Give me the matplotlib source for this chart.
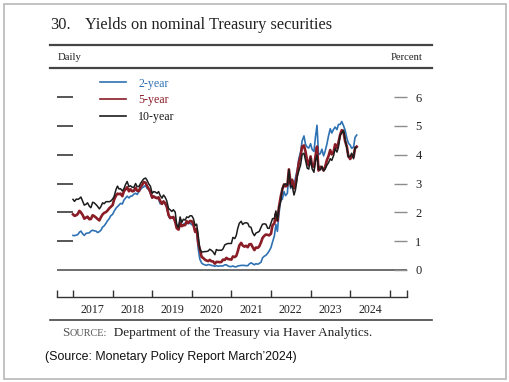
import matplotlib
matplotlib.use("Agg")
import matplotlib.pyplot as plt
from matplotlib.lines import Line2D
from matplotlib.patches import Rectangle
import numpy as np
import pandas as pd

# ---------------- data (semi-monthly readings, percent) ----------------
start_date = "2017-01-01"
series_names = ["2-year", "5-year", "10-year"]

yield_2y = [
    1.20, 1.19, 1.21, 1.23, 1.31, 1.35, 1.25, 1.20, 1.27, 1.28, 1.29, 1.35, 1.38, 1.36, 1.35, 1.30, 1.33, 1.38, 1.49, 1.53, 1.62, 1.71, 1.78, 1.88,
    1.93, 2.04, 2.14, 2.20, 2.25, 2.31, 2.29, 2.42, 2.50, 2.56, 2.50, 2.56, 2.57, 2.63, 2.66, 2.62, 2.72, 2.79, 2.86, 2.88, 2.94, 2.83, 2.80, 2.65,
    2.50, 2.56, 2.50, 2.52, 2.46, 2.30, 2.32, 2.38, 2.27, 2.18, 1.87, 1.78, 1.83, 1.84, 1.72, 1.55, 1.50, 1.70, 1.53, 1.59, 1.62, 1.62, 1.61, 1.63,
    1.57, 1.56, 1.33, 1.42, 0.72, 0.38, 0.24, 0.20, 0.18, 0.16, 0.19, 0.18, 0.16, 0.15, 0.13, 0.15, 0.13, 0.14, 0.14, 0.14, 0.18, 0.18, 0.14, 0.12,
    0.12, 0.14, 0.11, 0.11, 0.14, 0.15, 0.16, 0.16, 0.16, 0.15, 0.15, 0.21, 0.25, 0.22, 0.18, 0.22, 0.20, 0.23, 0.27, 0.42, 0.48, 0.51, 0.58, 0.66,
    0.78, 0.97, 1.18, 1.58, 1.34, 1.94, 2.44, 2.45, 2.72, 2.58, 2.66, 3.43, 2.83, 3.13, 2.90, 3.20, 3.50, 3.87, 4.10, 4.48, 4.65, 4.36, 4.26, 4.23,
    4.38, 4.18, 4.11, 4.62, 5.02, 4.00, 4.04, 4.19, 3.96, 4.12, 4.38, 4.65, 4.90, 4.75, 4.88, 4.96, 4.87, 5.05, 5.05, 5.15, 5.00, 4.85, 4.58, 4.40,
    4.33, 4.22, 4.27, 4.60, 4.68,
]

yield_5y = [
    1.93, 1.88, 1.90, 1.95, 2.05, 2.00, 1.90, 1.78, 1.82, 1.85, 1.76, 1.77, 1.90, 1.87, 1.82, 1.77, 1.72, 1.83, 1.93, 1.98, 2.01, 2.06, 2.14, 2.19,
    2.25, 2.44, 2.58, 2.65, 2.63, 2.65, 2.56, 2.73, 2.80, 2.87, 2.73, 2.80, 2.73, 2.74, 2.85, 2.75, 2.74, 2.88, 2.95, 3.05, 3.03, 2.91, 2.81, 2.71,
    2.51, 2.55, 2.51, 2.49, 2.52, 2.40, 2.29, 2.38, 2.32, 2.20, 1.91, 1.81, 1.82, 1.84, 1.67, 1.45, 1.40, 1.63, 1.52, 1.55, 1.56, 1.69, 1.63, 1.70,
    1.69, 1.59, 1.32, 1.42, 0.91, 0.73, 0.45, 0.42, 0.36, 0.33, 0.31, 0.35, 0.30, 0.30, 0.22, 0.28, 0.28, 0.27, 0.28, 0.36, 0.35, 0.42, 0.38, 0.37,
    0.36, 0.47, 0.45, 0.49, 0.65, 0.85, 0.94, 0.85, 0.81, 0.84, 0.79, 0.89, 0.90, 0.80, 0.69, 0.78, 0.77, 0.82, 0.96, 1.11, 1.19, 1.23, 1.22, 1.20,
    1.26, 1.55, 1.62, 1.95, 1.71, 2.18, 2.55, 2.79, 2.97, 2.90, 2.93, 3.49, 2.99, 3.13, 2.83, 2.95, 3.38, 3.73, 3.96, 4.28, 4.32, 4.11, 3.77, 3.63,
    3.94, 3.61, 3.57, 3.95, 4.28, 3.45, 3.58, 3.55, 3.45, 3.58, 3.82, 3.95, 4.16, 4.01, 4.10, 4.36, 4.23, 4.43, 4.70, 4.85, 4.77, 4.47, 4.28, 3.95,
    3.85, 3.95, 3.93, 4.23, 4.28,
]

yield_10y = [
    2.45, 2.38, 2.46, 2.45, 2.48, 2.53, 2.38, 2.25, 2.28, 2.33, 2.21, 2.16, 2.35, 2.33, 2.27, 2.21, 2.12, 2.20, 2.33, 2.30, 2.37, 2.37, 2.37, 2.39,
    2.46, 2.55, 2.79, 2.91, 2.81, 2.82, 2.74, 2.82, 2.97, 3.07, 2.89, 2.92, 2.87, 2.86, 3.00, 2.89, 2.90, 3.00, 3.09, 3.16, 3.19, 3.11, 2.98, 2.91,
    2.66, 2.72, 2.70, 2.66, 2.72, 2.59, 2.49, 2.60, 2.52, 2.40, 2.13, 2.09, 2.03, 2.09, 2.01, 1.58, 1.47, 1.84, 1.65, 1.76, 1.73, 1.84, 1.82, 1.88,
    1.88, 1.79, 1.54, 1.59, 1.17, 0.73, 0.62, 0.63, 0.64, 0.64, 0.66, 0.72, 0.68, 0.63, 0.53, 0.71, 0.68, 0.69, 0.68, 0.73, 0.87, 0.90, 0.92, 0.92,
    0.92, 1.13, 1.09, 1.20, 1.45, 1.62, 1.69, 1.58, 1.63, 1.64, 1.62, 1.50, 1.48, 1.30, 1.19, 1.28, 1.31, 1.34, 1.48, 1.59, 1.60, 1.59, 1.45, 1.44,
    1.63, 1.78, 1.79, 2.05, 1.72, 2.16, 2.39, 2.83, 2.96, 2.99, 2.94, 3.48, 2.88, 2.92, 2.60, 2.79, 3.26, 3.45, 3.65, 4.01, 4.05, 3.80, 3.53, 3.50,
    3.88, 3.51, 3.39, 3.79, 3.98, 3.50, 3.47, 3.60, 3.44, 3.50, 3.64, 3.72, 3.86, 3.80, 3.97, 4.21, 4.09, 4.27, 4.69, 4.75, 4.85, 4.54, 4.23, 3.92,
    3.95, 4.05, 3.86, 4.26, 4.25,
]

year_labels = ["2017", "2018", "2019", "2020", "2021", "2022", "2023", "2024"]
yticks = [0, 1, 2, 3, 4, 5, 6]

# ---------------- helpers ----------------
dates = pd.date_range(start_date, periods=len(yield_2y), freq="SMS")
days_in_year = np.where(dates.is_leap_year, 366.0, 365.0)
xdec = dates.year + (dates.dayofyear - 1) / days_in_year

W, H = 509, 382
fig = plt.figure(figsize=(W / 100, H / 100), dpi=100)
fig.patch.set_facecolor("white")

def fx(px):
    return px / W

def fy(py):
    return 1 - py / H

SERIF = "Liberation Serif"
C_BLUE = "#2f72b4"
C_RED = "#8a1c26"
C_BLACK = "#1c1c1c"
C_TXT = "#222222"

# outer border
fig.add_artist(Rectangle((fx(4), fy(379)), fx(502), 375 / H, transform=fig.transFigure,
                         fill=False, edgecolor="#bdbdbd", lw=1.3))

# title
fig.text(fx(50), fy(29), "30.", family=SERIF, fontsize=11.8, color=C_TXT, va="baseline")
fig.text(fx(85), fy(29), "Yields on nominal Treasury securities", family=SERIF, fontsize=11.8,
         color=C_TXT, va="baseline")

# rules
for y, lw in [(45, 1.6), (68, 1.6), (320, 1.2)]:
    fig.add_artist(Line2D([fx(50), fx(432)], [fy(y), fy(y)], transform=fig.transFigure,
                          color="#444444", lw=lw))

fig.text(fx(58), fy(57.5), "Daily", family=SERIF, fontsize=7.7, color=C_TXT, va="center")
fig.text(fx(423), fy(57.5), "Percent", family=SERIF, fontsize=7.7, color=C_TXT, va="center", ha="right")

# ---------------- main axes ----------------
px_per_unit = 28.83
ax_top, ax_bot = 72, 272
ax = fig.add_axes([fx(57), fy(ax_bot), fx(407) - fx(57), (ax_bot - ax_top) / H])
ax.set_facecolor("none")
x_left = 2017 - (73 - 57) / 39.6
x_right = 2017 + (407 - 73) / 39.6
ax.set_xlim(x_left, x_right)
ax.set_ylim(-(ax_bot - 270) / px_per_unit, (270 - ax_top) / px_per_unit)
for s in ax.spines.values():
    s.set_visible(False)
ax.set_xticks([])

ax.axhline(0, color="#555555", lw=1.2, zorder=1)

l2, = ax.plot(xdec, yield_2y, color=C_BLUE, lw=1.2, zorder=3)
l5, = ax.plot(xdec, yield_5y, color=C_RED, lw=1.9, zorder=4)
l10, = ax.plot(xdec, yield_10y, color=C_BLACK, lw=1.1, zorder=5)

# left ticks (no labels)
ax.set_yticks(yticks[1:])
ax.tick_params(axis="y", which="major", left=True, labelleft=False, direction="in",
               length=11.5, width=1.2, color="#3a3a3a")
# right ticks with labels via secondary axis
axr = ax.twinx()
axr.set_ylim(ax.get_ylim())
for s in axr.spines.values():
    s.set_visible(False)
axr.set_yticks(yticks)
axr.set_yticklabels([str(v) for v in yticks])
axr.tick_params(axis="y", right=True, left=False, direction="in", length=9.5, width=1.0,
                color="#8c8c8c", pad=6, labelsize=9, labelcolor=C_TXT)
for t in axr.get_yticklabels():
    t.set_family(SERIF)
axr.set_xticks([])

# legend
leg = ax.legend([l2, l5, l10], series_names, loc="upper left",
                bbox_to_anchor=(fx(100), fy(77.5)), bbox_transform=fig.transFigure,
                frameon=False, borderpad=0, borderaxespad=0, handlelength=2.2,
                handletextpad=1.0, labelspacing=0.4,
                prop={"family": SERIF, "size": 8.6})
for txt, col in zip(leg.get_texts(), [C_BLUE, C_RED, C_BLACK]):
    txt.set_color(col)
for h in leg.legend_handles:
    h.set_linewidth(1.2)

# ---------------- x axis (separate strip) ----------------
axx = fig.add_axes([fx(57), fy(297), fx(407) - fx(57), 8 / H])
axx.set_xlim(x_left, x_right)
axx.set_ylim(0, 1)
for k in ["top", "left", "right"]:
    axx.spines[k].set_visible(False)
axx.spines["bottom"].set_color("#333333")
axx.spines["bottom"].set_linewidth(1.0)
axx.set_yticks([])
year_starts = [int(y) for y in year_labels] + [int(year_labels[-1]) + 1]
axx.set_xticks([x_left] + year_starts + [x_right])
axx.set_xticklabels([])
axx.tick_params(axis="x", which="major", direction="in", length=5, width=1.0, color="#333333")
axx.set_xticks([int(y) + 0.5 for y in year_labels], minor=True)
axx.set_xticklabels(year_labels, minor=True)
axx.tick_params(axis="x", which="minor", length=0, pad=5, labelsize=8.6, labelcolor=C_TXT)
for t in axx.get_xticklabels(minor=True):
    t.set_family(SERIF)
axx.set_facecolor("none")

# ---------------- source lines ----------------
t1 = fig.text(fx(62), fy(336), "S", family=SERIF, fontsize=9.5, color="#555555", va="baseline")
t2 = fig.text(0, 0, "OURCE:", family=SERIF, fontsize=7.4, color="#555555", va="baseline")
t3 = fig.text(0, 0, "  Department of the Treasury via Haver Analytics.", family=SERIF,
              fontsize=9.5, color=C_TXT, va="baseline")
fig.canvas.draw()
r = fig.canvas.get_renderer()
bb1 = t1.get_window_extent(r)
t2.set_position((bb1.x1 / fig.bbox.width, fy(336)))
bb2 = t2.get_window_extent(r)
t3.set_position((bb2.x1 / fig.bbox.width, fy(336)))

fig.text(fx(45), fy(357), "(Source: Monetary Policy Report March\u20192024)",
         family="Liberation Sans", fontsize=8.9, color="#111111", va="center")

fig.savefig("out.png", dpi=100)
